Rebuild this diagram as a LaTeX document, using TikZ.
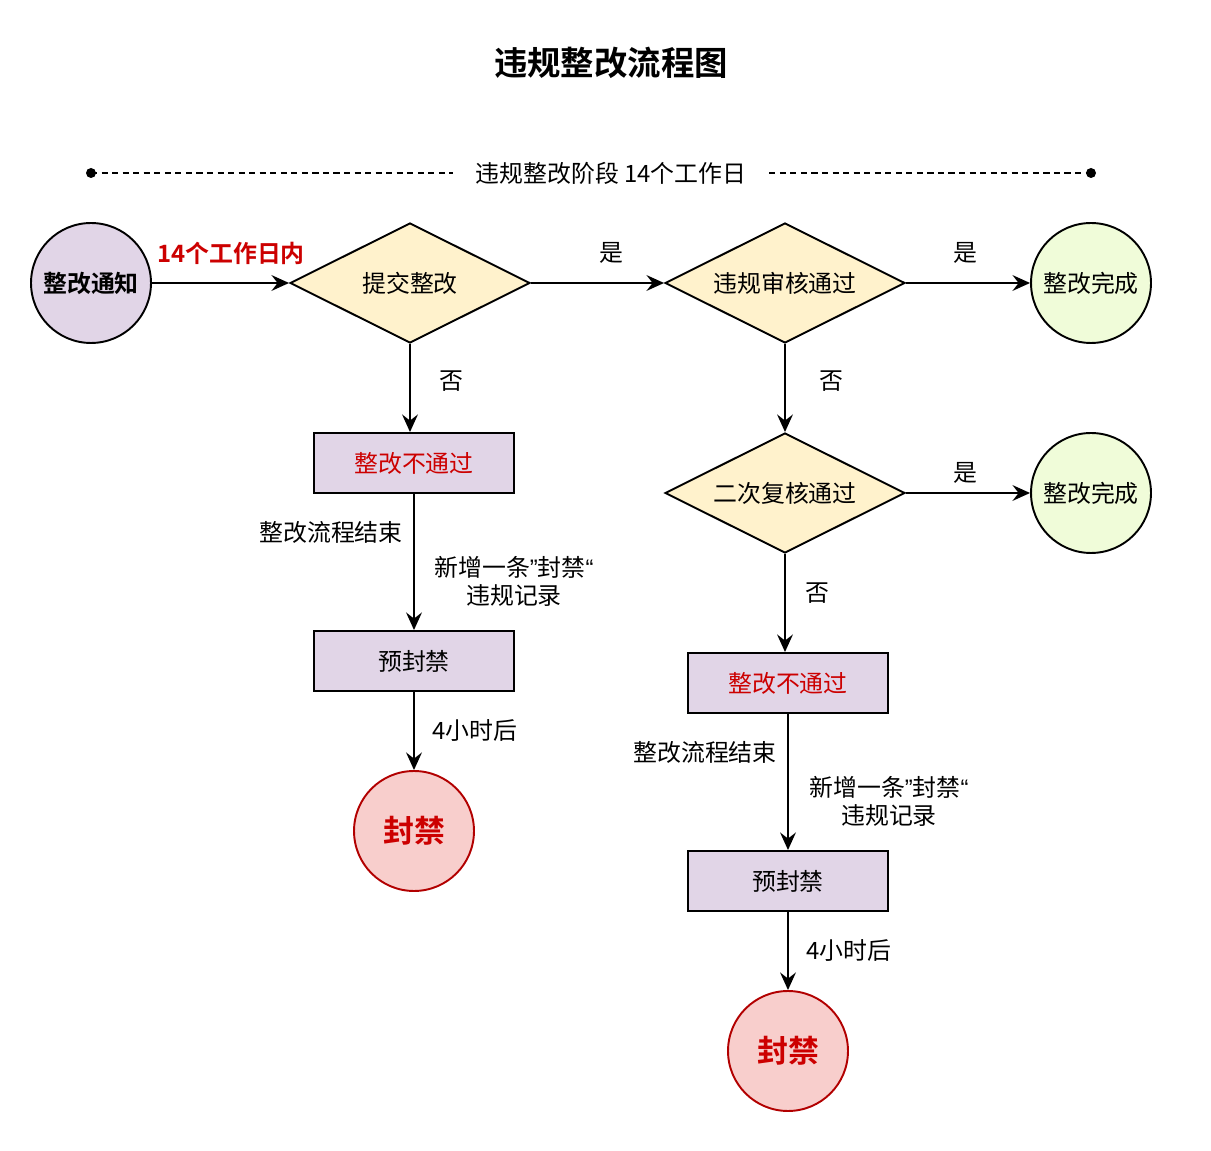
\documentclass[tikz,border=0pt]{standalone}
\usepackage{fontspec}
\setmainfont{Noto Sans CJK SC}[BoldFont={* Bold}]
\newfontfamily\quotefont{Liberation Sans}
\usetikzlibrary{shapes.geometric,arrows.meta}

\definecolor{purplefill}{HTML}{E1D5E7}
\definecolor{yellowfill}{HTML}{FFF2CC}
\definecolor{greenfill}{HTML}{F0FCD9}
\definecolor{redfill}{HTML}{F8CECC}
\definecolor{redline}{HTML}{B20000}
\definecolor{redtext}{HTML}{CC0000}

\newcommand{\banrecord}{新增一条{\quotefont ”}封禁{\quotefont “}\\违规记录}

\tikzset{
  txt/.style={font=\fontsize{13.6}{16}\selectfont, text=black},
  base/.style={txt, draw=black, line width=1.1pt},
  decision/.style={base, diamond, aspect=2, minimum width=4.8cm, minimum height=2.4cm, inner sep=0pt, fill=yellowfill},
  process/.style={base, rectangle, minimum width=4cm, minimum height=1.2cm, fill=purplefill},
  startnode/.style={base, circle, minimum size=2.4cm, inner sep=0pt, fill=purplefill, font=\fontsize{13.6}{16}\selectfont\bfseries},
  donenode/.style={base, circle, minimum size=2.4cm, inner sep=0pt, fill=greenfill},
  bannode/.style={base, circle, minimum size=2.4cm, inner sep=0pt, fill=redfill, draw=redline, text=redtext, font=\fontsize{17.6}{20}\selectfont\bfseries},
  flow/.style={line width=1.1pt, -{Stealth[length=10pt,width=9pt,inset=3.5pt]}},
  lbl/.style={txt, align=center, inner sep=1pt}
}

\begin{document}
\begin{tikzpicture}[x=0.02cm, y=-0.02cm]
\useasboundingbox (0,0) rectangle (1211,1151);

% title and phase line
\node[font=\fontsize{19}{22}\selectfont\bfseries] (title) at (611,63) {违规整改流程图};
\node[txt, inner xsep=0.45cm] (phase) at (611,173) {违规整改阶段 14个工作日};
\fill (91,173) circle (5) coordinate (dotL);
\fill (1091,173) circle (5) coordinate (dotR);
\draw[line width=1pt, dash pattern=on 3.5pt off 2.5pt] (dotL) -- (phase.west);
\draw[line width=1pt, dash pattern=on 3.5pt off 2.5pt] (phase.east) -- (dotR);

% first row
\node[startnode] (notice) at (91,283) {整改通知};
\node[decision] (submit) at (410,283) {提交整改};
\node[decision] (review) at (785,283) {违规审核通过};
\node[donenode] (done1) at (1091,283) {整改完成};

% left column
\node[process, text=redtext] (fail1) at (414,463) {整改不通过};
\node[process] (pre1) at (414,661) {预封禁};
\node[bannode] (ban1) at (414,831) {封禁};

% right column
\node[decision] (recheck) at (785,493) {二次复核通过};
\node[donenode] (done2) at (1091,493) {整改完成};
\node[process, text=redtext] (fail2) at (788,683) {整改不通过};
\node[process] (pre2) at (788,881) {预封禁};
\node[bannode] (ban2) at (788,1051) {封禁};

% connectors
\draw[flow] (notice) -- (submit);
\draw[flow] (submit) -- (review);
\draw[flow] (review) -- (done1);
\draw[flow] (submit.south) -- (submit.south |- fail1.north);
\draw[flow] (review) -- (recheck);
\draw[flow] (recheck) -- (done2);
\draw[flow] (fail1) -- (pre1);
\draw[flow] (pre1) -- (ban1);
\draw[flow] (recheck.south) -- (recheck.south |- fail2.north);
\draw[flow] (fail2) -- (pre2);
\draw[flow] (pre2) -- (ban2);

% labels
\node[lbl, text=redtext, font=\fontsize{13.6}{16}\selectfont\bfseries] (within) at (231,253) {14个工作日内};
\node[lbl] (yes1) at (611,253) {是};
\node[lbl] (yes2) at (965,253) {是};
\node[lbl] (no1) at (451,381) {否};
\node[lbl] (no2) at (831,381) {否};
\node[lbl] (yes3) at (965,473) {是};
\node[lbl] (no3) at (817,593) {否};
\node[lbl] (end1) at (331,532) {整改流程结束};
\node[lbl] (rec1) at (514,581) {\banrecord};
\node[lbl] (wait1) at (475,731) {4小时后};
\node[lbl] (end2) at (705,752) {整改流程结束};
\node[lbl] (rec2) at (889,801) {\banrecord};
\node[lbl] (wait2) at (849,951) {4小时后};
\end{tikzpicture}
\end{document}
